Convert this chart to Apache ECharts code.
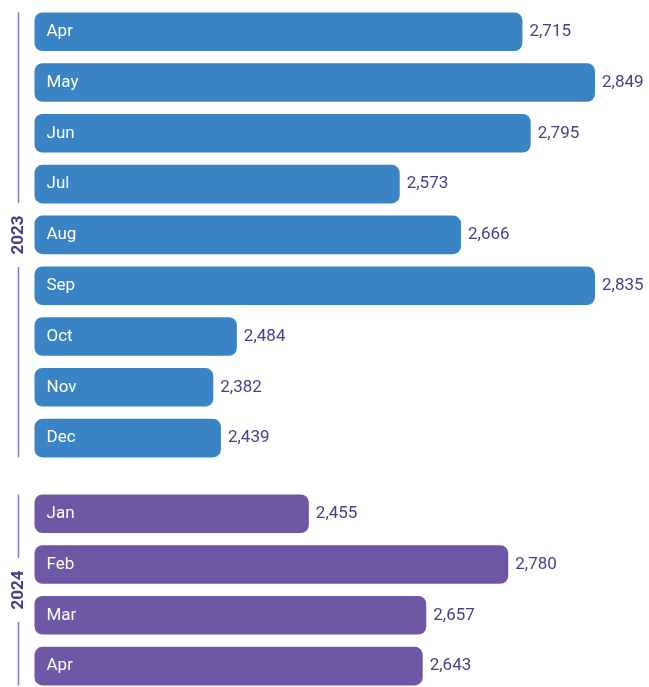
<!DOCTYPE html>
<html>
<head>
<meta charset="utf-8">
<script src="https://cdn.jsdelivr.net/npm/echarts@6/dist/echarts.min.js"></script>
<style>
  html, body { margin: 0; padding: 0; background: #fff; }
  #chart { width: 649px; height: 687px; }
</style>
</head>
<body>
<div id="chart"></div>
<script>
// 2023 group (bar length is the drawn length, label is the printed value)
var months2023 = ['Apr', 'May', 'Jun', 'Jul', 'Aug', 'Sep', 'Oct', 'Nov', 'Dec'];
var barLength2023 = [82.7, 95.0, 84.1, 61.9, 72.3, 95.0, 34.3, 30.3, 31.6];
var labels2023 = [2715, 2849, 2795, 2573, 2666, 2835, 2484, 2382, 2439];

// 2024 group
var months2024 = ['Jan', 'Feb', 'Mar', 'Apr'];
var barLength2024 = [46.5, 80.3, 66.4, 65.8];
var labels2024 = [2455, 2780, 2657, 2643];

var years = ['2023', '2024'];

var chart = echarts.init(document.getElementById('chart'));

function fmt(n) {
  return String(n).replace(/\B(?=(\d{3})+(?!\d))/g, ',');
}

function barSeries(idx, data, labels, color) {
  return {
    type: 'bar',
    xAxisIndex: idx,
    yAxisIndex: idx,
    data: data,
    barCategoryGap: '24%',
    itemStyle: { color: color, borderRadius: 8 },
    label: {
      show: true,
      position: 'right',
      distance: 7,
      fontFamily: 'Roboto',
      fontSize: 17,
      color: '#463f8c',
      padding: [6, 0, 0, 0],
      formatter: function (p) { return fmt(labels[p.dataIndex]); }
    },
    silent: true
  };
}

function catAxis(idx, cats) {
  return {
    type: 'category',
    gridIndex: idx,
    data: cats,
    inverse: true,
    z: 5,
    axisLine: { show: false },
    axisTick: { show: false },
    axisLabel: {
      inside: true,
      margin: 12,
      color: '#fff',
      fontFamily: 'Roboto',
      fontSize: 17,
      padding: [6, 0, 0, 0]
    }
  };
}

function valAxis(idx) {
  return { type: 'value', gridIndex: idx, min: 0, max: 100, show: false };
}

var option = {
  animation: false,
  grid: [
    { left: 34.5, top: 6.3, width: 590, height: 457.2, outerBoundsMode: 'none', containLabel: false },
    { left: 34.5, top: 488.3, width: 590, height: 203.2, outerBoundsMode: 'none', containLabel: false }
  ],
  xAxis: [valAxis(0), valAxis(1)],
  yAxis: [catAxis(0, months2023), catAxis(1, months2024)],
  series: [
    barSeries(0, barLength2023, labels2023, '#3a84c5'),
    barSeries(1, barLength2024, labels2024, '#6e57a5')
  ]
};
chart.setOption(option);

// year brackets on the left, placed from the category scale
function bracket(idx, count, year) {
  var y0 = chart.convertToPixel({ yAxisIndex: idx }, 0);
  var y1 = chart.convertToPixel({ yAxisIndex: idx }, 1);
  var yl = chart.convertToPixel({ yAxisIndex: idx }, count - 1);
  var half = (y1 - y0) * 0.38;
  var top = y0 - half, bottom = yl + half, mid = (top + bottom) / 2;
  var gap = 32, x = 18.5;
  var lineStyle = { stroke: '#8b78c6', lineWidth: 1.5 };
  return [
    { type: 'line', shape: { x1: x, y1: top, x2: x, y2: mid - gap }, style: lineStyle },
    { type: 'line', shape: { x1: x, y1: mid + gap, x2: x, y2: bottom }, style: lineStyle },
    {
      type: 'text', x: x, y: mid, rotation: Math.PI / 2,
      style: {
        text: year, align: 'center', verticalAlign: 'middle',
        font: 'bold 17px Roboto', fill: '#4a3a8c'
      }
    }
  ];
}

chart.setOption({
  graphic: bracket(0, months2023.length, years[0]).concat(bracket(1, months2024.length, years[1]))
});
</script>
</body>
</html>
